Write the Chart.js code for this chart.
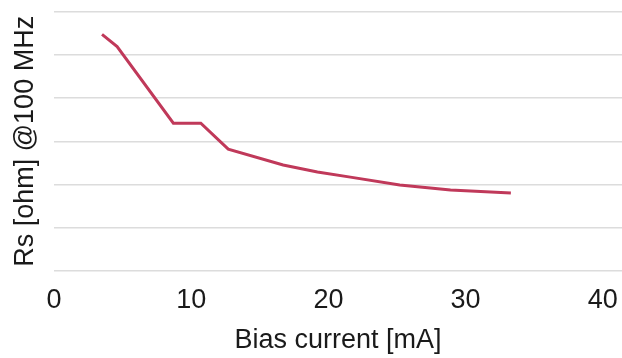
<!DOCTYPE html>
<html>
<head>
<meta charset="utf-8">
<script src="https://cdn.jsdelivr.net/npm/chart.js@4"></script>
<style>
  html, body { margin: 0; padding: 0; background: #fff; }
  #wrap { width: 622px; height: 358px; }
</style>
</head>
<body>
<div id="wrap"><canvas id="grafico" width="622" height="358"></canvas></div>
<script>
// values (y in gridline units, no labels shown)
const biasCurrent = [3.5, 4.6, 8.7, 10.7, 12.7, 16.7, 19.2, 21.6, 25.2, 28.9, 33.3];
const rsValues = [5.48, 5.20, 3.42, 3.42, 2.82, 2.45, 2.29, 2.17, 1.99, 1.87, 1.80];
const xTicks = [0, 10, 20, 30, 40];

const fonte = { family: '"Liberation Sans", Arial, sans-serif', size: 27 };

const ctx = document.getElementById('grafico').getContext('2d');
new Chart(ctx, {
    type: 'line',
    data: {
        datasets: [{
            label: 'Rs',
            data: biasCurrent.map((x, i) => ({ x: x, y: rsValues[i] })),
            borderColor: '#c0395a',
            borderWidth: 3,
            pointRadius: 0,
            tension: 0,
            fill: false
        }]
    },
    options: {
        responsive: false,
        animation: false,
        layout: { padding: { left: 5, top: 12, right: 0, bottom: 1.5 } },
        plugins: { legend: { display: false }, tooltip: { enabled: false } },
        scales: {
            x: {
                type: 'linear',
                min: 0,
                max: 41.4,
                afterBuildTicks: axis => { axis.ticks = xTicks.map(v => ({ value: v })); },
                afterFit: axis => { axis.paddingRight = 0; axis.paddingLeft = 0; },
                grid: { display: false, drawTicks: false },
                border: { display: false },
                ticks: { color: '#1a1a1a', font: fonte, padding: 14, maxRotation: 0 },
                title: {
                    display: true,
                    text: 'Bias current [mA]',
                    color: '#1a1a1a',
                    font: fonte,
                    padding: { top: -7, bottom: 0 }
                }
            },
            y: {
                min: 0,
                max: 6,
                ticks: { display: false, stepSize: 1 },
                grid: { color: '#dcdcdc', lineWidth: 1.5, drawTicks: false },
                border: { display: false },
                title: {
                    display: true,
                    text: 'Rs [ohm] @100 MHz',
                    color: '#1a1a1a',
                    font: fonte,
                    padding: { top: 4, bottom: 12.6 }
                }
            }
        }
    }
});
</script>
</body>
</html>
